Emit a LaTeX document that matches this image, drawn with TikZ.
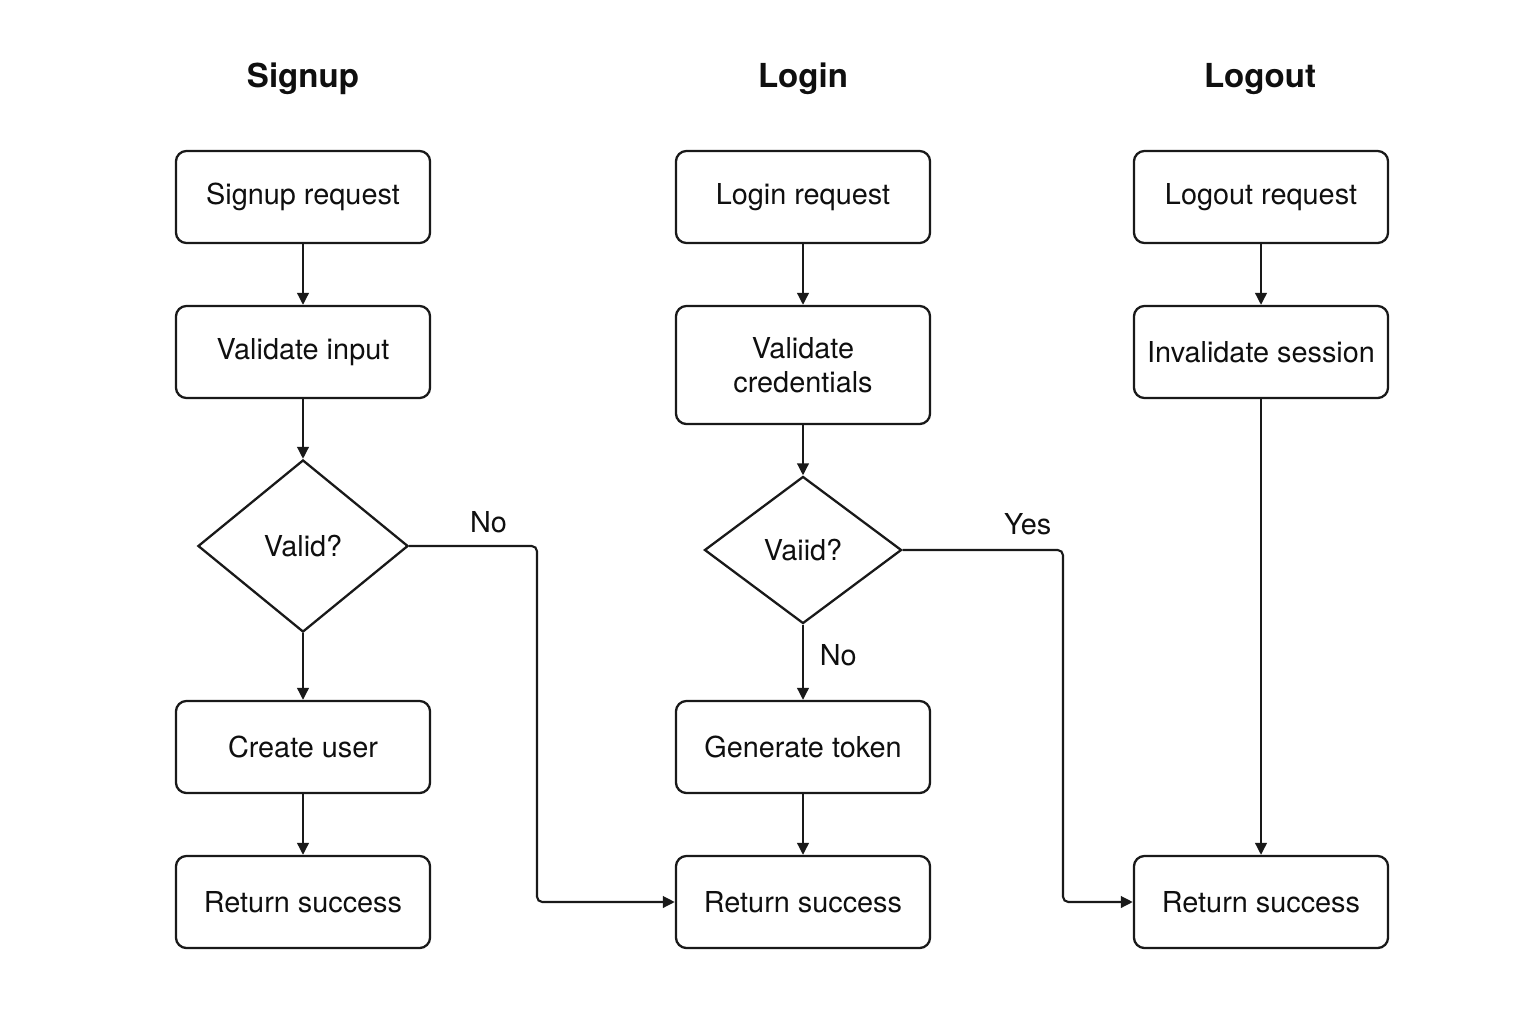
\documentclass[tikz,border=0pt]{standalone}
\usepackage{fontspec}
\setmainfont{TeX Gyre Heros}
\usetikzlibrary{arrows.meta, shapes.geometric}
\definecolor{lineBase}{RGB}{ 25, 25, 25}
\definecolor{textBase}{RGB}{ 15, 15, 15}
\tikzset{
    stepbox/.style={
        rectangle, rounded corners=3pt, draw=lineBase, fill=white,
        line width=0.65pt, inner sep=2pt, align=center,
        minimum width=2.54cm, minimum height=0.92cm,
        font=\fontsize{8.2}{9.6}\selectfont, text=textBase,
    },
    tallbox/.style={
        stepbox, minimum height=1.18cm,
    },
    decbox/.style={
        diamond, draw=lineBase, fill=white, line width=0.65pt,
        inner sep=0pt, font=\fontsize{8.2}{9.6}\selectfont,
        text=textBase,
    },
    % Edge styles:
    %   flow  -> straight step-to-step arrow
    %   elbow -> routed branch arrow with small rounded bends
    flow/.style={
        -{Triangle[length=3.4pt, width=3.3pt]}, line width=0.6pt,
        draw=lineBase,
    },
    elbow/.style={
        flow, rounded corners=1.5pt,
    },
    elab/.style={
        font=\fontsize{8.2}{9.6}\selectfont, text=textBase,
        inner sep=1pt,
    },
    title/.style={
        font=\fontsize{9.4}{11}\selectfont\bfseries, text=textBase,
    },
}

\begin{document}
\begin{tikzpicture}[x=0.01cm, y=-0.01cm]
\useasboundingbox (0,0) rectangle (1536,1024);

% ============================================================
%   Column titles
% ============================================================
\node[title] (tsign) at ( 303, 79) {Signup};
\node[title] (tlog)  at ( 803, 79) {Login};
\node[title] (tout)  at (1260, 79) {Logout};

% ============================================================
%   Signup column
% ============================================================
\node[stepbox] (SR) at (303, 197) {Signup request};
\node[stepbox] (SI) at (303, 352) {Validate input};
\node[decbox, minimum width=2.10cm, minimum height=1.72cm]
               (SV) at (303, 546) {Valid?};
\node[stepbox] (SC) at (303, 747) {Create user};
\node[stepbox] (SS) at (303, 902) {Return success};

% ============================================================
%   Login column
% ============================================================
\node[stepbox] (LR) at (803, 197) {Login request};
\node[tallbox] (LC) at (803, 365) {Validate\\credentials};
\node[decbox, minimum width=1.97cm, minimum height=1.47cm]
               (LV) at (803, 550) {Vaiid?};
\node[stepbox] (LT) at (803, 747) {Generate token};
\node[stepbox] (LS) at (803, 902) {Return success};

% ============================================================
%   Logout column
% ============================================================
\node[stepbox] (OR) at (1261, 197) {Logout request};
\node[stepbox] (OI) at (1261, 352) {Invalidate session};
\node[stepbox] (OS) at (1261, 902) {Return success};

% ============================================================
%   Edges
% ============================================================

% --- straight steps ------------------------------------------
\draw[flow] (SR) -- (SI);
\draw[flow] (SI) -- (SV);
\draw[flow] (SV) -- (SC);
\draw[flow] (SC) -- (SS);

\draw[flow] (LR) -- (LC);
\draw[flow] (LC) -- (LV);
\draw[flow] (LV) --
    node[elab, pos=0.4, right=3.5pt] {No} (LT);
\draw[flow] (LT) -- (LS);

\draw[flow] (OR) -- (OI);
\draw[flow] (OI) -- (OS);

% --- branches routed to the next column ----------------------
\coordinate (sbend) at ( 537, 546);
\coordinate (lbend) at (1063, 550);

\draw[elbow] (SV.east) --
    node[elab, pos=0.62, above=2.5pt] {No} (sbend) |- (LS.west);
\draw[elbow] (LV.east) --
    node[elab, pos=0.78, above=3pt] {Yes} (lbend) |- (OS.west);

\end{tikzpicture}
\end{document}
